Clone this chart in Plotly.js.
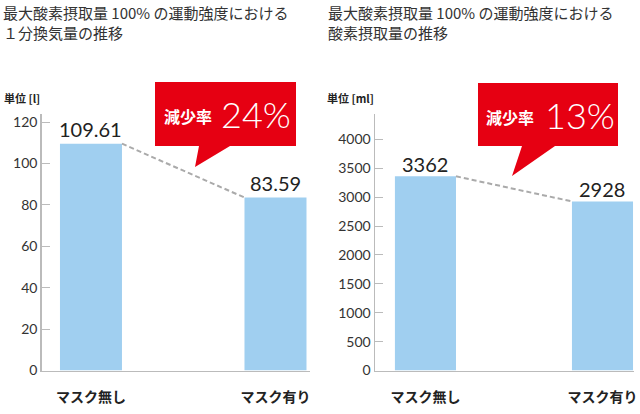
<!DOCTYPE html>
<html>
<head>
<meta charset="utf-8">
<script src="https://cdn.plot.ly/plotly-3.0.1.min.js"></script>
<style>html,body{margin:0;padding:0;background:#fff;}#chart{width:640px;height:414px;}</style>
</head>
<body>
<div id="chart"></div>
<script>
// ---- data ----
const categories = ['マスク無し', 'マスク有り'];
const ventilation = [109.61, 83.59];          // 1分換気量 [l]
const oxygenUptake = [3362, 2928];            // 酸素摂取量 [ml]
const ventilationLabels = ['109.61', '83.59'];
const oxygenLabels = ['3362', '2928'];
const reductionRates = ['24%', '13%'];
const leftTicks = [0, 20, 40, 60, 80, 100, 120];
const rightTicks = [0, 500, 1000, 1500, 2000, 2500, 3000, 3500, 4000];
const titles = [
  '最大酸素摂取量 100% の運動強度における<br>１分換気量の推移',
  '最大酸素摂取量 100% の運動強度における<br>酸素摂取量の推移'
];
const units = ['単位 [l]', '単位 [ml]'];

// ---- layout helpers ----
const W = 640, H = 414;
const px = x => x / W;
const py = y => 1 - y / H;
const barColor = '#a0cff0';
const red = '#e60012';
const jp = 'Noto Sans CJK JP, Noto Sans, sans-serif';
const lat = 'Lato, Noto Sans, sans-serif';

const bwL = 0.336, bwR = 0.345;

const traces = [
  {type: 'bar', x: categories, y: ventilation, width: bwL, marker: {color: barColor}, xaxis: 'x', yaxis: 'y', hoverinfo: 'none'},
  {type: 'bar', x: categories, y: oxygenUptake, width: bwR, marker: {color: barColor}, xaxis: 'x2', yaxis: 'y2', hoverinfo: 'none'}
];

function yax(range, ticks) {
  return {
    range: range, tickvals: ticks, ticktext: ticks.map(String),
    ticks: 'inside', ticklen: 8, tickcolor: '#bbb', tickwidth: 1,
    showline: true, linecolor: '#bbb', linewidth: 1.5,
    showgrid: false, zeroline: false,
    tickfont: {family: lat, size: 14, color: '#333'},
    domain: [py(370.5), py(113.5)], fixedrange: true
  };
}
function xax(range, domain) {
  return {
    type: 'category', range: range, domain: domain,
    showline: true, linecolor: '#bbb', linewidth: 1.5,
    ticks: '', showgrid: false, zeroline: false,
    tickfont: {family: jp, size: 14, color: '#222', weight: 700},
    ticklabelstandoff: 13, fixedrange: true
  };
}

const layout = {
  width: W, height: H,
  margin: {l: 0, r: 0, t: 0, b: 0},
  paper_bgcolor: '#fff', plot_bgcolor: 'rgba(0,0,0,0)',
  showlegend: false,
  xaxis: Object.assign(xax([-0.267, 1.187], [px(41.7), px(310)]), {anchor: 'y'}),
  yaxis: Object.assign(yax([0, 124.2], leftTicks), {anchor: 'x'}),
  xaxis2: Object.assign(xax([-0.285, 1.178], [px(375), px(634)]), {anchor: 'y2'}),
  yaxis2: Object.assign(yax([0, 4450], rightTicks), {anchor: 'x2'}),
  shapes: [], annotations: []
};

// dashed connecting lines between bar tops
layout.shapes.push({type: 'line', xref: 'x', yref: 'y', x0: bwL / 2, x1: 1 - bwL / 2, y0: ventilation[0], y1: ventilation[1],
  line: {color: '#aaa', width: 2, dash: '5px,3px'}});
layout.shapes.push({type: 'line', xref: 'x2', yref: 'y2', x0: bwR / 2, x1: 1 - bwR / 2, y0: oxygenUptake[0], y1: oxygenUptake[1],
  line: {color: '#aaa', width: 2, dash: '5px,3px'}});

// callouts (rect + tail), pixel geometry converted to paper
function callout(x0, x1, y0, y1, bx0, bx1, tx, ty) {
  const p = [[x0, y0], [x1, y0], [x1, y1], [bx1, y1], [tx, ty], [bx0, y1], [x0, y1]];
  return {type: 'path', xref: 'paper', yref: 'paper',
    path: 'M' + p.map(q => px(q[0]).toFixed(5) + ',' + py(q[1]).toFixed(5)).join(' L') + ' Z',
    fillcolor: red, line: {width: 0}, layer: 'above'};
}
layout.shapes.push(callout(155, 296, 82, 146, 199, 230, 195, 167));
layout.shapes.push(callout(478, 618, 83, 146, 522, 555, 512, 176));

// value labels
[['x', 'y', ventilationLabels, ventilation, 15], ['x2', 'y2', oxygenLabels, oxygenUptake, 12]].forEach(([xr, yr, labels, vals, sh]) => {
  labels.forEach((t, i) => layout.annotations.push({
    xref: xr, yref: yr, x: i, y: vals[i], text: t, showarrow: false,
    yanchor: 'middle', yshift: sh, font: {family: lat, size: 20, color: '#222'}
  }));
});

// callout texts
layout.annotations.push({xref: 'paper', yref: 'paper', x: px(187.5), y: py(116), text: '減少率', showarrow: false,
  xanchor: 'center', yanchor: 'middle', font: {family: jp, size: 16, color: '#fff', weight: 700}});
layout.annotations.push({xref: 'paper', yref: 'paper', x: px(255.5), y: py(114), text: reductionRates[0], showarrow: false,
  xanchor: 'center', yanchor: 'middle', font: {family: lat, size: 36, color: '#fff', weight: 300}});
layout.annotations.push({xref: 'paper', yref: 'paper', x: px(510), y: py(117), text: '減少率', showarrow: false,
  xanchor: 'center', yanchor: 'middle', font: {family: jp, size: 16, color: '#fff', weight: 700}});
layout.annotations.push({xref: 'paper', yref: 'paper', x: px(580), y: py(115), text: reductionRates[1], showarrow: false,
  xanchor: 'center', yanchor: 'middle', font: {family: lat, size: 36, color: '#fff', weight: 300}});

// units
layout.annotations.push({xref: 'paper', yref: 'paper', x: px(42), y: py(98), text: units[0], showarrow: false,
  xanchor: 'right', yanchor: 'middle', font: {family: jp, size: 11, color: '#222', weight: 700}});
layout.annotations.push({xref: 'paper', yref: 'paper', x: px(376), y: py(98), text: units[1], showarrow: false,
  xanchor: 'right', yanchor: 'middle', font: {family: jp, size: 11, color: '#222', weight: 700}});

// chart titles
layout.annotations.push({xref: 'paper', yref: 'paper', x: px(1), y: py(0), text: titles[0], showarrow: false,
  xanchor: 'left', yanchor: 'top', align: 'left', font: {family: jp, size: 15, color: '#333'}});
layout.annotations.push({xref: 'paper', yref: 'paper', x: px(326), y: py(0), text: titles[1], showarrow: false,
  xanchor: 'left', yanchor: 'top', align: 'left', font: {family: jp, size: 15, color: '#333'}});

Plotly.newPlot('chart', traces, layout, {staticPlot: true, displayModeBar: false});
</script>
</body>
</html>
